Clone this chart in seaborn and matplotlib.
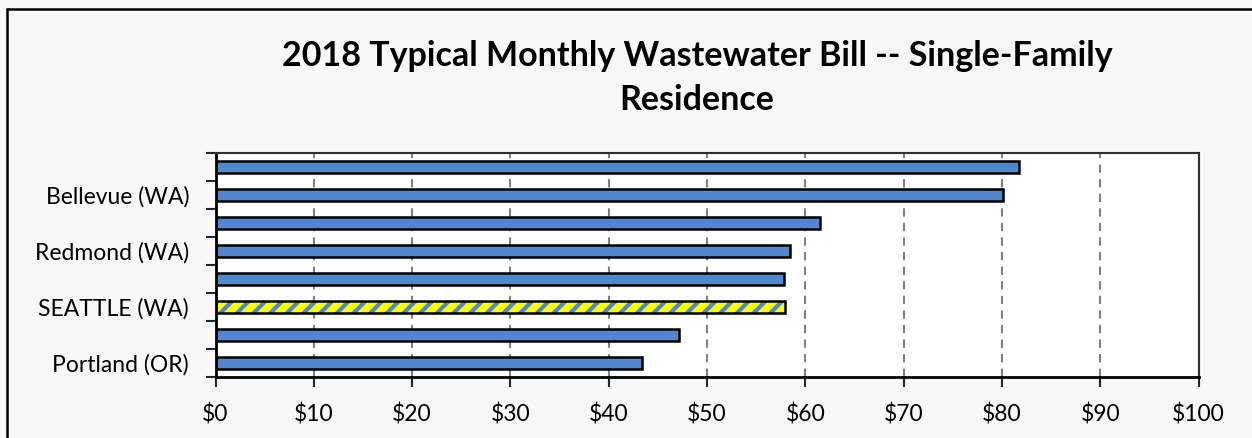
import numpy as np
import pandas as pd
import matplotlib
matplotlib.use("Agg")
import matplotlib.pyplot as plt
from matplotlib.lines import Line2D
import seaborn as sns

# data (top to bottom as drawn); only every other city name is shown on the axis
cities = ["City A", "Bellevue (WA)", "City B", "Redmond (WA)",
          "City C", "SEATTLE (WA)", "City D", "Portland (OR)"]
bills = [81.7, 80.1, 61.5, 58.4, 57.8, 57.9, 47.1, 43.4]
shown_labels = ["Bellevue (WA)", "Redmond (WA)", "SEATTLE (WA)", "Portland (OR)"]
highlight = "SEATTLE (WA)"
xticks = list(range(0, 101, 10))

blue = "#4f88d0"
yellow = "#ffff00"

sns.set_style("white")
plt.rcParams["font.family"] = ["Lato", "DejaVu Sans"]
plt.rcParams["hatch.linewidth"] = 3.0

df = pd.DataFrame({"city": cities, "bill": bills})

fig = plt.figure(figsize=(12.52, 4.38), dpi=100, facecolor="#f8f8f8")
ax = fig.add_axes([215.5 / 1252, 1 - 377 / 438, (1198.7 - 215.5) / 1252, (377 - 153) / 438])
ax.set_facecolor("white")

sns.barplot(data=df, x="bill", y="city", order=cities, orient="h", color=blue,
            saturation=1, width=0.43, edgecolor="black", linewidth=1.8, ax=ax)

# hatched highlight bar for Seattle
for bar, name in zip(ax.patches, cities):
    if name == highlight:
        bar.set_facecolor(yellow)
        bar.set_hatch("//")
        bar._hatch_color = matplotlib.colors.to_rgba(blue)

ax.set_xlim(0, 100)
ax.set_ylim(len(cities) - 0.5, -0.5)
ax.set_xticks(xticks)
ax.set_xticklabels([f"${v}" for v in xticks], fontsize=16.5, color="black")
ax.tick_params(axis="x", which="major", bottom=True, direction="out", length=7,
               width=1.5, pad=12)

# category boundaries get the tick marks, labels sit at the bar centres
ax.set_yticks(np.arange(len(cities) + 1) - 0.5)
ax.set_yticklabels([])
ax.tick_params(axis="y", which="major", left=True, direction="out", length=7, width=1.5)
ax.set_yticks([cities.index(c) for c in shown_labels], minor=True)
ax.set_yticklabels(shown_labels, minor=True, fontsize=16.5, color="black")
ax.tick_params(axis="y", which="minor", left=True, length=0, pad=19)

ax.xaxis.grid(True, color="#808080", linestyle=(0, (4, 3)), linewidth=1.5)
ax.yaxis.grid(False)
ax.set_axisbelow(True)
ax.set_xlabel("")
ax.set_ylabel("")

for side in ["left", "bottom"]:
    ax.spines[side].set_color("black")
    ax.spines[side].set_linewidth(2)
for side in ["top", "right"]:
    ax.spines[side].set_color("#303030")
    ax.spines[side].set_linewidth(1.5)

fig.text(697 / 1252, 1 - 56 / 438, "2018 Typical Monthly Wastewater Bill -- Single-Family",
         ha="center", va="center", fontsize=24.5, fontweight="bold", color="black")
fig.text(697 / 1252, 1 - 100 / 438, "Residence",
         ha="center", va="center", fontsize=24.5, fontweight="bold", color="black")

# chart-area border (only the top and left edges are inside the picture)
fig.add_artist(Line2D([7 / 1252, 7 / 1252], [0, 1 - 9 / 438], color="black", linewidth=1.8))
fig.add_artist(Line2D([7 / 1252, 1], [1 - 9 / 438, 1 - 9 / 438], color="black", linewidth=1.8))

fig.savefig("out.png", dpi=100, facecolor=fig.get_facecolor())
